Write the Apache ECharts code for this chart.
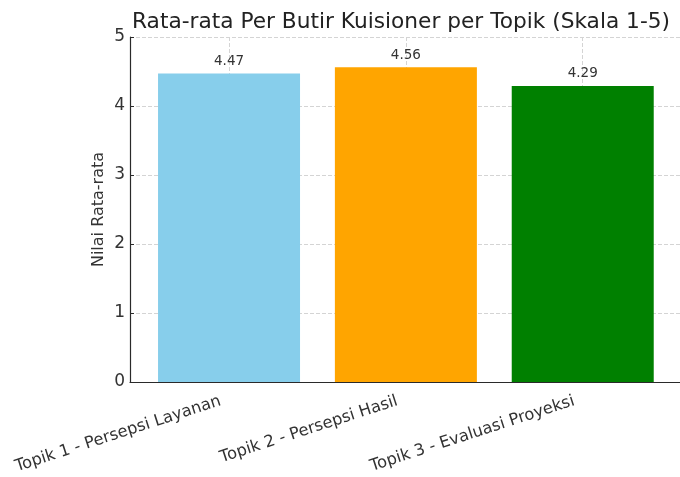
<!DOCTYPE html>
<html>
<head>
<meta charset="utf-8">
<script src="https://cdn.jsdelivr.net/npm/echarts@6/dist/echarts.min.js"></script>
<style>
  html, body { margin: 0; padding: 0; background: #fff; }
  #chart { width: 680px; height: 477px; }
</style>
</head>
<body>
<div id="chart"></div>
<script>
// Data.
const topics = ["Topik 1 - Persepsi Layanan", "Topik 2 - Persepsi Hasil", "Topik 3 - Evaluasi Proyeksi"];
const averages = [4.47, 4.56, 4.29];
const barColors = ["#87CEEB", "#FFA500", "#008000"];
const yTicks = [0, 1, 2, 3, 4, 5];

const FONT = "DejaVu Sans";
const positions = topics.map((_, i) => i);

const chart = echarts.init(document.getElementById("chart"), null, { renderer: "canvas" });

chart.setOption({
  animation: false,
  textStyle: { fontFamily: FONT },
  title: {
    text: "Rata-rata Per Butir Kuisioner per Topik (Skala 1-5)",
    left: 127,
    top: 6,
    textStyle: { fontFamily: FONT, fontSize: 21.7, fontWeight: "normal", color: "#222" },
  },
  grid: { left: 130, right: 0, top: 37, bottom: 95 },
  xAxis: {
    type: "value",
    min: -0.56,
    max: 2.55,
    axisLine: { show: true, lineStyle: { color: "#2a2a2a", width: 1.2 } },
    axisTick: { show: true, inside: true, customValues: positions, length: 4, lineStyle: { color: "#2a2a2a" } },
    axisLabel: {
      customValues: positions,
      formatter: (v) => topics[Math.round(v)] ?? "",
      rotate: 18,
      margin: 16,
      padding: [0, 9, 0, 0],
      fontFamily: FONT,
      fontSize: 16.3,
      color: "#333",
    },
    splitLine: { show: true, lineStyle: { type: "dashed", color: "#d4d4d4" } },
  },
  yAxis: {
    type: "value",
    min: yTicks[0],
    max: yTicks[yTicks.length - 1],
    interval: 1,
    name: "Nilai Rata-rata",
    nameLocation: "middle",
    nameGap: 23,
    nameMoveOverlap: false,
    nameTextStyle: { fontFamily: FONT, fontSize: 16, color: "#333" },
    axisLine: { show: true, onZero: false, lineStyle: { color: "#2a2a2a", width: 1.2 } },
    axisTick: { show: true, inside: true, length: 4, lineStyle: { color: "#2a2a2a" } },
    axisLabel: { fontFamily: FONT, fontSize: 17, color: "#333", margin: 5 },
    splitLine: { show: true, lineStyle: { type: "dashed", color: "#d4d4d4" } },
  },
  series: [
    {
      type: "bar",
      barWidth: 142,
      data: averages.map((v, i) => ({
        value: [positions[i], v],
        itemStyle: { color: barColors[i] },
      })),
      label: {
        show: true,
        position: "top",
        distance: 5,
        formatter: (p) => p.value[1].toFixed(2),
        fontFamily: FONT,
        fontSize: 13.5,
        color: "#333",
      },
      z: 1,
    },
  ],
});
</script>
</body>
</html>
